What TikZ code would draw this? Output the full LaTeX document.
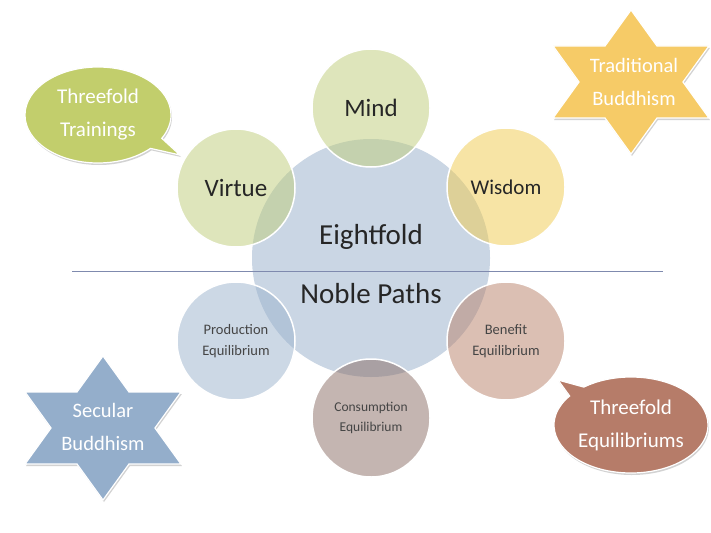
\documentclass[tikz,border=0pt]{standalone}
\usepackage{fontspec}
\setmainfont{Carlito}
\usetikzlibrary{shapes.callouts,shadows}
\definecolor{eightC}{HTML}{CAD6E4}
\definecolor{mindC}{HTML}{BFCD79}
\definecolor{wisdomC}{HTML}{F1CB4D}
\definecolor{prodC}{HTML}{9BB3CD}
\definecolor{beneC}{HTML}{B98169}
\definecolor{consC}{HTML}{8A6C64}
\definecolor{greenB}{HTML}{C2CE6C}
\definecolor{brownB}{HTML}{B67C69}
\definecolor{goldS}{HTML}{F6CB67}
\definecolor{blueS}{HTML}{94AECB}
\definecolor{lineC}{HTML}{7F8AAE}
\definecolor{txtC}{HTML}{262626}
\definecolor{smallC}{HTML}{454545}
\begin{document}
\begin{tikzpicture}[x=1pt,y=-1pt,
  ring/.style={circle, draw=white, line width=1.5pt, fill opacity=0.5, text opacity=1,
    minimum size=118pt, inner sep=0pt, align=center, text=txtC},
  bigtxt/.style={font=\fontsize{25}{30}\selectfont},
  smalltxt/.style={font=\fontsize{14.5}{21}\selectfont, text=smallC},
  centertxt/.style={font=\fontsize{29}{34}\selectfont, text=txtC, inner sep=0pt},
  bubble/.style={ellipse callout, draw=white, line width=1.2pt, inner sep=0pt,
    minimum width=146pt, minimum height=96pt, text=white, align=center,
    font=\fontsize{21}{33}\selectfont,
    drop shadow={opacity=0.35, shadow xshift=1pt, shadow yshift=-2pt}},
  starshape/.style={draw=white, line width=1.2pt, line join=miter,
    drop shadow={opacity=0.35, shadow xshift=1pt, shadow yshift=-2pt}},
  startxt/.style={text=white, align=center, font=\fontsize{20.5}{33}\selectfont, inner sep=0pt}
]
\useasboundingbox (0,0) rectangle (711,532);
\fill[white] (0,0) rectangle (711,532);

% central circle
\node[circle, fill=eightC, minimum size=238pt, inner sep=0pt] (eight) at (371,258) {};

% satellites
\node[ring, fill=mindC, bigtxt] (mind) at (371,108) {Mind};
\node[ring, fill=mindC, bigtxt] (virtue) at (236,188) {Virtue};
\node[ring, fill=wisdomC, font=\fontsize{21}{25}\selectfont] (wisdom) at (506,187) {Wisdom};
\node[ring, fill=prodC, smalltxt] (prod) at (236,341) {Production\\Equilibrium};
\node[ring, fill=beneC, smalltxt] (bene) at (506,341) {Benefit\\Equilibrium};
\node[ring, fill=consC, smalltxt, font=\fontsize{13.5}{20}\selectfont] (cons) at (371,418) {Consumption\\Equilibrium};

% divider line
\coordinate (lineL) at (72,271);
\coordinate (lineR) at (663,271);
\draw[lineC, line width=0.9pt] (lineL) -- (lineR);

% central texts
\node[centertxt] (eighttxt) at (371,237) {Eightfold};
\node[centertxt] (nobletxt) at (371,294) {Noble Paths};

% speech bubbles
\node[bubble, fill=greenB, callout absolute pointer={(180,155)}] (trainings) at (98,115) {Threefold\\Trainings};
\node[bubble, fill=brownB, minimum width=154pt, callout absolute pointer={(558,380)}] (equil) at (631,425) {Threefold\\Equilibriums};

% stars
\begin{scope}[shift={(631,82)}, xscale=1.25]
  \filldraw[starshape, fill=goldS] (90:72) \foreach \i in {1,...,11}{ -- ({90+30*\i}:{ifthenelse(mod(\i,2)==0,72,41.57)}) } -- cycle;
\end{scope}
\node[startxt] (trad) at (634,82) {Traditional\\Buddhism};

\begin{scope}[shift={(103,428)}, xscale=1.25]
  \filldraw[starshape, fill=blueS] (90:72) \foreach \i in {1,...,11}{ -- ({90+30*\i}:{ifthenelse(mod(\i,2)==0,72,41.57)}) } -- cycle;
\end{scope}
\node[startxt] (secular) at (103,427) {Secular\\Buddhism};
\end{tikzpicture}
\end{document}
